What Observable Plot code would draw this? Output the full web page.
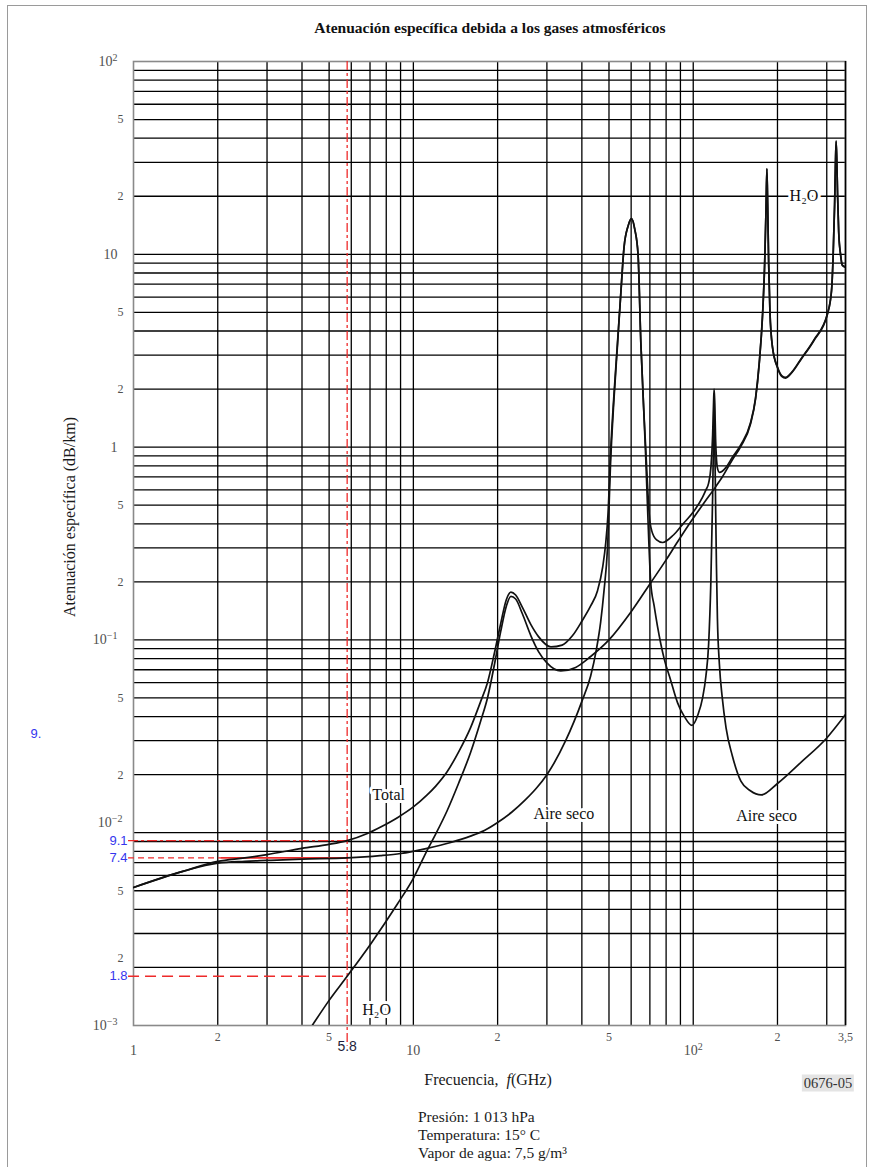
<!DOCTYPE html>
<html><head><meta charset="utf-8">
<script src="https://cdn.jsdelivr.net/npm/d3@7"></script>
<script src="https://cdn.jsdelivr.net/npm/@observablehq/plot@0.6"></script>
<style>
body{margin:0;background:#fff;}
#page{position:relative;width:869px;height:1167px;overflow:hidden;font-family:'Liberation Serif','Times New Roman',serif;color:#1a1a1a;}
#border{position:absolute;left:7px;top:5px;width:860px;height:1200px;border:1.5px solid #9a9a9a;box-sizing:border-box;}
#chart{position:absolute;left:0;top:0;}
.lbl{position:absolute;white-space:nowrap;transform:translate(-50%,-50%);}
#title{left:490px;top:28px;font-weight:bold;font-size:15.5px;color:#111;}
#ylab{left:70px;top:517px;font-size:16px;transform:translate(-50%,-50%) rotate(-90deg);}
#xlab{left:488px;top:1080px;font-size:16px;}
#fig{left:828px;top:1083px;font-size:14.5px;background:#e4e4e4;padding:0 2px;color:#333;}
#notes{position:absolute;left:418px;top:1108px;font-size:15.5px;line-height:18px;white-space:nowrap;}
</style></head><body><div id="page"><div id="border"></div><div id="chart"></div>
<div id="title" class="lbl">Atenuación específica debida a los gases atmosféricos</div>
<div id="ylab" class="lbl">Atenuación específica (dB/km)</div>
<div id="xlab" class="lbl">Frecuencia,&nbsp; <i>f</i>(GHz)</div>
<div id="fig" class="lbl">0676-05</div>
<div id="notes">Presión: 1 013 hPa<br>Temperatura: 15° C<br>Vapor de agua: 7,5 g/m³</div>
</div>
<script>
// ---- data (frequency GHz, specific attenuation dB/km) ----
const totalF = [1,1.5,2,2.5,3,4,5,5.8,6.85,7.64,8.8,10,11.2,12,13.2,14.5,16,17.4,18.4,19.5,20.5,21.5,22.3,23.2,24.5,26.3,28,31,34,37,40,43,45.5,47.5,48.7,49.6,50.7,52,53.6,55,56.6,58.5,60.2,61.8,63.5,65,66.5,67.7,68.8,69.6,71,74,77.7,85,92,100,108,111,113.5,115.6,117.3,118.2,118.75,119.3,120.2,121,122,124,127,131,138,148,160,167,172,177,180,182,183.3,184.5,186,188,192,200,207,214,225,242,270,302,312,316,320,322,324,326,328,331,336,341,350];
const totalA = [0.0052,0.0063,0.0071,0.0074,0.0077,0.0083,0.0087,0.0091,0.0099,0.0107,0.012,0.0136,0.0157,0.0174,0.0207,0.0262,0.035,0.048,0.06,0.086,0.121,0.162,0.177,0.171,0.148,0.12,0.104,0.092,0.094,0.105,0.125,0.15,0.18,0.24,0.32,0.45,0.96,1.8,3.45,6,10.9,14,15.3,13.5,10,3.45,1.6,0.96,0.6,0.45,0.37,0.33,0.32,0.35,0.4,0.46,0.55,0.6,0.65,0.78,1.15,1.7,2.0,1.75,1.1,0.88,0.78,0.74,0.75,0.785,0.885,1.03,1.33,1.8,2.7,4.95,9,17,27.8,18,9,5,3.3,2.6,2.35,2.3,2.45,2.85,3.6,4.95,6.5,9.6,18,28,38.6,30,20,13,10,8.8,8.6];

const dryF = [1,1.5,2,2.5,3,4,5.8,7.6,9,11.2,13.6,16,18,20,22.5,25,27.5,30,35,40,43,45,46.7,48,49.4,50.7,52,53.6,55,56.6,58.5,60.2,61.8,63.5,65,66.5,67.7,68.8,70.5,72.5,74.5,78.7,83,88,93,99,104,108,111,113.5,115.6,117.3,118.2,118.75,119.3,120.2,121,122,124,127,131,138,148,160,175,200,242,300,350];
const dryA = [0.0052,0.0063,0.00695,0.0071,0.00718,0.0073,0.0074,0.0076,0.0078,0.0083,0.0089,0.0096,0.0103,0.0113,0.0128,0.0147,0.0170,0.0200,0.030,0.048,0.065,0.088,0.124,0.18,0.30,0.85,1.7,3.35,6,10.9,14,15.3,13.5,10,3.45,1.6,0.86,0.45,0.198,0.15,0.118,0.08,0.062,0.047,0.04,0.036,0.041,0.05,0.065,0.095,0.2,0.55,1.15,1.9,1.2,0.5,0.25,0.13,0.075,0.05,0.035,0.025,0.0185,0.0165,0.0157,0.018,0.0231,0.031,0.041];

const h2oF = [4.0,4.35,5,5.8,7.04,8.77,10,11.2,12,13.2,14.5,16,17.4,18.4,19.5,20.5,21.5,22.3,23.2,24.5,26.3,28,30,33.6,38,43,50,60,70.5,80,87,98,110,120,127,138,148,160,167,172,177,180,182,183.3,184.5,186,188,192,200,207,214,225,242,270,302,312,316,320,322,324,326,328,331,336,341,350];
const h2oA = [0.00083,0.001,0.00135,0.0018,0.00265,0.00427,0.0058,0.0081,0.0098,0.013,0.018,0.026,0.038,0.05,0.075,0.11,0.15,0.168,0.163,0.137,0.105,0.087,0.076,0.069,0.072,0.082,0.1,0.14,0.198,0.26,0.315,0.41,0.52,0.62,0.70,0.86,1.01,1.31,1.78,2.68,4.93,9,17,27.8,18,9,5,3.28,2.58,2.33,2.28,2.43,2.83,3.57,4.92,6.47,9.57,18,28,38.6,30,20,13,10,8.76,8.56];

// reading at 5.8 GHz
const readF = 5.8;
const readVals = [0.0091, 0.0074, 0.0018];
const readLabels = ["9.1", "7.4", "1.8"];

// curve labels
const curveLabelText = ["Total", "Aire seco", "Aire seco", "H\u2082O", "H\u2082O"];
const curveLabelF = [8.16, 34.5, 183, 7.39, 248.6];
const curveLabelA = [0.0158, 0.01258, 0.01227, 0.0012, 20.2];

// ticks
const xDecades = [1, 10, 100];
const xDecadeLabels = ["1", "10", "10^2"];
const xMinor = [2, 5, 20, 50, 200, 350];
const xMinorLabels = ["2", "5", "2", "5", "2", "3,5"];
const yDecades = [1e-3, 1e-2, 1e-1, 1, 10, 100];
const yDecadeLabels = ["10^\u22123", "10^\u22122", "10^\u22121", "1", "10", "10^2"];
const yMinor = [2e-3, 5e-3, 2e-2, 5e-2, 0.2, 0.5, 2, 5, 20, 50];
const yMinorLabels = ["2", "5", "2", "5", "2", "5", "2", "5", "2", "5"];

// grid
const xGrid = [];
for (const d of [1, 10, 100]) for (let m = 1; m <= 9; m++) { const v = m * d; if (v > 1 && v < 350) xGrid.push(v); }
const yGrid = [];
for (const d of [1e-3, 1e-2, 1e-1, 1, 10]) for (let m = 1; m <= 9; m++) { const v = +(m * d).toPrecision(3); if (v > 1e-3) yGrid.push(v); }

const zip = (F, A) => F.map((f, i) => ({f, a: A[i]}));
const total = zip(totalF, totalA);
const dry = zip(dryF, dryA);
const h2o = zip(h2oF, h2oA);
const curveLabels = curveLabelText.map((t, i) => ({t, f: curveLabelF[i], a: curveLabelA[i]}));
const reads = readVals.map((a, i) => ({a, t: readLabels[i], f0: 0.96, f1: readF}));
const yDec = yDecades.map((v, i) => ({v, t: yDecadeLabels[i]}));
const yMin = yMinor.map((v, i) => ({v, t: yMinorLabels[i]}));
const xDec = xDecades.map((v, i) => ({v, t: xDecadeLabels[i]}));
const xMin = xMinor.map((v, i) => ({v, t: xMinorLabels[i]}));

const serif = "'Liberation Serif','Times New Roman',serif";
const sans = "'Liberation Sans',Arial,sans-serif";
const red = "#ee2a2a";
const blue = "#3535ee";
const tickGray = "#505050";

const svg = Plot.plot({
  width: 869, height: 1167,
  marginLeft: 133, marginRight: 24, marginTop: 61, marginBottom: 142,
  x: {type: "log", domain: [1, 350], axis: null},
  y: {type: "log", domain: [1e-3, 100], axis: null},
  style: {fontFamily: serif, background: "transparent", overflow: "visible"},
  marks: [
    Plot.ruleX(xGrid, {stroke: "#000", strokeWidth: 1.3}),
    Plot.ruleY(yGrid, {stroke: "#000", strokeWidth: 1.3}),
    Plot.frame({stroke: "#8a8a8a", strokeWidth: 1.6}),
    Plot.ruleX([350], {stroke: "#000", strokeWidth: 1.6}),
    // red reading lines
    Plot.ruleX([{f: readF, a1: 100, a2: 0.00078}], {x: "f", y1: "a1", y2: "a2", stroke: red, strokeWidth: 1.3, strokeDasharray: "9,3,3,3"}),
    Plot.ruleY([reads[0]], {y: "a", x1: "f0", x2: "f1", stroke: red, strokeWidth: 1.4, strokeDasharray: "10,3,3,3"}),
    Plot.ruleY([{a: readVals[1], f0: 0.96, f1: 2.05}], {y: "a", x1: "f0", x2: "f1", stroke: red, strokeWidth: 1.4, strokeDasharray: "6,4"}),
    Plot.ruleY([{a: readVals[1], f0: 2.05, f1: readF}], {y: "a", x1: "f0", x2: "f1", stroke: red, strokeWidth: 1.6}),
    Plot.ruleY([reads[2]], {y: "a", x1: "f0", x2: "f1", stroke: red, strokeWidth: 1.4, strokeDasharray: "11,6"}),
    // curves
    Plot.line(dry, {x: "f", y: "a", curve: "monotone-x", stroke: "#111", strokeWidth: 1.7, clip: true}),
    Plot.line(h2o, {x: "f", y: "a", curve: "monotone-x", stroke: "#111", strokeWidth: 1.7, clip: true}),
    Plot.line(total, {x: "f", y: "a", curve: "monotone-x", stroke: "#111", strokeWidth: 1.7, clip: true}),
    // curve labels
    Plot.text(curveLabels, {x: "f", y: "a", text: "t", fontSize: 16, fill: "#111", stroke: "white", strokeWidth: 6}),
    // reading labels
    Plot.text(reads, {x: "f0", y: "a", text: "t", textAnchor: "end", dx: -1, fontFamily: sans, fontSize: 13, fill: blue}),
    Plot.text([{v: readF, t: "5.8"}], {x: "v", text: "t", frameAnchor: "bottom", dy: 25, fontFamily: sans, fontSize: 14, fill: "#1d1d3a"}),
    Plot.text([{v: 0.0327, t: "9."}], {y: "v", text: "t", frameAnchor: "left", dx: -103, textAnchor: "start", fontFamily: sans, fontSize: 13, fill: blue}),
    // y tick labels
    Plot.text(yDec.filter(d => d.v !== 1e-2), {y: "v", text: "t", frameAnchor: "left", textAnchor: "end", dx: -16, fontSize: 14, fill: tickGray}),
    Plot.text(yDec.filter(d => d.v === 1e-2), {y: "v", text: "t", frameAnchor: "left", textAnchor: "end", dx: -11, dy: -10, fontSize: 14, fill: tickGray}),
    Plot.text(yMin.filter(d => d.v !== 2e-3), {y: "v", text: "t", frameAnchor: "left", textAnchor: "end", dx: -10, fontSize: 12, fill: tickGray}),
    Plot.text(yMin.filter(d => d.v === 2e-3), {y: "v", text: "t", frameAnchor: "left", textAnchor: "end", dx: -10, dy: -9, fontSize: 12, fill: tickGray}),
    // x tick labels
    Plot.text(xDec, {x: "v", text: "t", frameAnchor: "bottom", dy: 29, fontSize: 14, fill: tickGray}),
    Plot.text(xMin, {x: "v", text: "t", frameAnchor: "bottom", dy: 15, fontSize: 12, fill: tickGray})
  ]
});
document.getElementById("chart").appendChild(svg);

// turn "10^n" tick texts into real superscripts
d3.select(svg).selectAll("text").each(function () {
  const s = this.textContent;
  const k = s.indexOf("^");
  if (k > 0) {
    const t = d3.select(this);
    t.text(null);
    t.append("tspan").text(s.slice(0, k));
    t.append("tspan").attr("font-size", 10).attr("baseline-shift", "5").text(s.slice(k + 1));
  }
});
</script>
</body></html>
